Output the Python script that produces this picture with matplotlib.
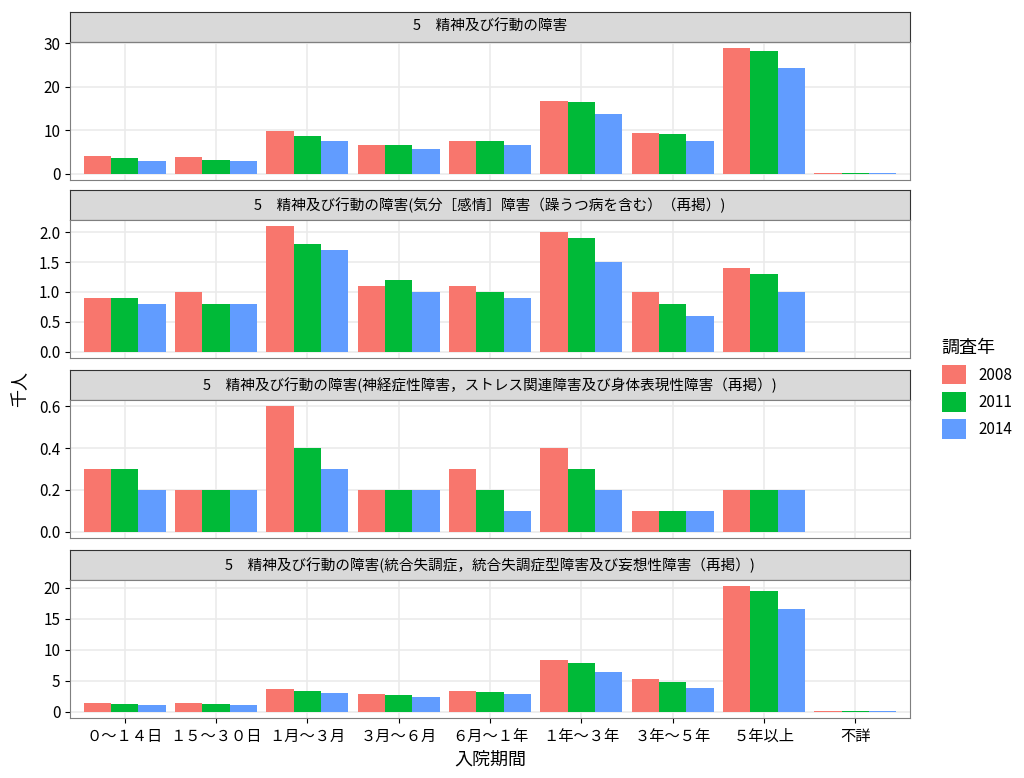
import matplotlib.pyplot as plt
import numpy as np

plt.rcParams['font.family'] = ['Noto Sans CJK JP', 'DejaVu Sans']

categories = ["０～１４日", "１５～３０日", "１月～３月", "３月～６月", "６月～１年",
              "１年～３年", "３年～５年", "５年以上", "不詳"]
years = ["2008", "2011", "2014"]
colors = ["#F8766D", "#00BA38", "#619CFF"]

titles = [
    "5　精神及び行動の障害",
    "5　精神及び行動の障害(気分［感情］障害（躁うつ病を含む）（再掲）)",
    "5　精神及び行動の障害(神経症性障害，ストレス関連障害及び身体表現性障害（再掲）)",
    "5　精神及び行動の障害(統合失調症，統合失調症型障害及び妄想性障害（再掲）)",
]
p1_2008 = [4.0, 3.8, 9.8, 6.7, 7.5, 16.6, 9.4, 28.8, 0.1]
p1_2011 = [3.6, 3.2, 8.7, 6.7, 7.5, 16.4, 9.1, 28.1, 0.1]
p1_2014 = [2.9, 2.9, 7.6, 5.7, 6.7, 13.6, 7.4, 24.3, 0.1]
p2_2008 = [0.9, 1.0, 2.1, 1.1, 1.1, 2.0, 1.0, 1.4, 0.0]
p2_2011 = [0.9, 0.8, 1.8, 1.2, 1.0, 1.9, 0.8, 1.3, 0.0]
p2_2014 = [0.8, 0.8, 1.7, 1.0, 0.9, 1.5, 0.6, 1.0, 0.0]
p3_2008 = [0.3, 0.2, 0.6, 0.2, 0.3, 0.4, 0.1, 0.2, 0.0]
p3_2011 = [0.3, 0.2, 0.4, 0.2, 0.2, 0.3, 0.1, 0.2, 0.0]
p3_2014 = [0.2, 0.2, 0.3, 0.2, 0.1, 0.2, 0.1, 0.2, 0.0]
p4_2008 = [1.4, 1.4, 3.6, 2.8, 3.4, 8.3, 5.3, 20.2, 0.1]
p4_2011 = [1.3, 1.2, 3.3, 2.7, 3.2, 7.9, 4.8, 19.4, 0.1]
p4_2014 = [1.1, 1.1, 3.0, 2.4, 2.9, 6.4, 3.9, 16.5, 0.1]
panels = [(p1_2008, p1_2011, p1_2014), (p2_2008, p2_2011, p2_2014),
          (p3_2008, p3_2011, p3_2014), (p4_2008, p4_2011, p4_2014)]
yticks = [[0, 10, 20, 30], [0.0, 0.5, 1.0, 1.5, 2.0], [0.0, 0.2, 0.4, 0.6],
          [0, 5, 10, 15, 20]]
ylabels = [["0", "10", "20", "30"], ["0.0", "0.5", "1.0", "1.5", "2.0"],
           ["0.0", "0.2", "0.4", "0.6"], ["0", "5", "10", "15", "20"]]

W, H = 1024, 778
fig = plt.figure(figsize=(W / 100, H / 100), dpi=100)
left, right = 70, 910
strip_tops = [12, 190, 370, 550]
strip_h, panel_h = 30, 138
x = np.arange(len(categories))
w = 0.3

for i, (vals, top) in enumerate(zip(panels, strip_tops)):
    sax = fig.add_axes([left / W, 1 - (top + strip_h) / H, (right - left) / W, strip_h / H])
    sax.set_facecolor("#D9D9D9")
    sax.set_xticks([]); sax.set_yticks([])
    for s in sax.spines.values():
        s.set_color("#333333")
    sax.text(0.5, 0.5, titles[i], ha="center", va="center", fontsize=10.5, transform=sax.transAxes)

    ax = fig.add_axes([left / W, 1 - (top + strip_h + panel_h) / H, (right - left) / W, panel_h / H])
    ax.set_axisbelow(True)
    ax.grid(color="#EBEBEB", linewidth=1.2)
    for j, (v, c, yr) in enumerate(zip(vals, colors, years)):
        ax.bar(x + (j - 1) * w, v, w, color=c, label=yr)
    ymax = max(max(v) for v in vals)
    ax.set_ylim(-0.05 * ymax, ymax * 1.05)
    ax.set_xlim(-0.6, len(categories) - 0.4)
    ax.set_yticks(yticks[i])
    ax.set_yticklabels(ylabels[i], fontsize=11)
    ax.set_xticks(x)
    for s in ax.spines.values():
        s.set_color("#7F7F7F")
    if i < 3:
        ax.set_xticklabels([])
        ax.tick_params(axis="x", length=0)
    else:
        ax.set_xticklabels(categories, fontsize=11)
        ax.set_xlabel("入院期間", fontsize=13)
    if i == 0:
        handles, labels = ax.get_legend_handles_labels()

fig.text(20 / W, 0.5, "千人", rotation=90, va="center", ha="center", fontsize=13)
fig.legend(handles, labels, title="調査年", loc="center left", bbox_to_anchor=(928 / W, 0.5),
           frameon=False, fontsize=11, title_fontsize=13, handlelength=1.6, handleheight=1.6,
           alignment="left")

fig.savefig("out.png", dpi=100)
